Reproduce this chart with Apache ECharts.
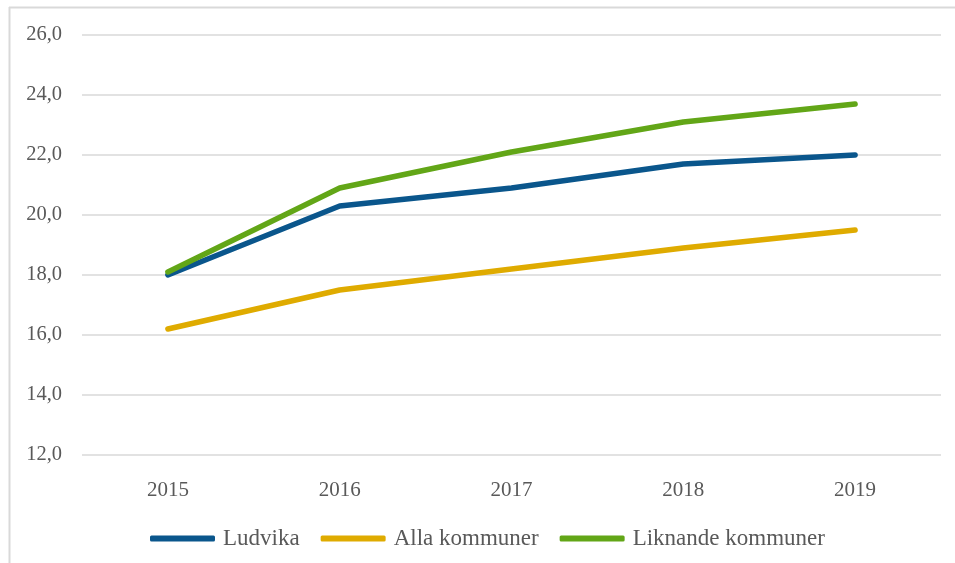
<!DOCTYPE html>
<html>
<head>
<meta charset="utf-8">
<script src="https://cdn.jsdelivr.net/npm/echarts@6/dist/echarts.min.js"></script>
<style>
html,body{margin:0;padding:0;background:#fff}
#chart{width:955px;height:563px}
</style>
</head>
<body>
<div id="chart"></div>
<script>
// år och värden
var years = ['2015', '2016', '2017', '2018', '2019'];
var ludvika = [18.0, 20.3, 20.9, 21.7, 22.0];
var allaKommuner = [16.2, 17.5, 18.2, 18.9, 19.5];
var liknandeKommuner = [18.1, 20.9, 22.1, 23.1, 23.7];

var textColor = '#595959';
var fontFam = '"Liberation Serif", "DejaVu Serif", serif';

var myChart = echarts.init(document.getElementById('chart'));

function lineSerie(name, data, color) {
	return {
		name: name,
		type: 'line',
		data: data,
		symbol: 'none',
		smooth: false,
		lineStyle: { width: 5.5, color: color, cap: 'round', join: 'round' },
		itemStyle: { color: color }
	};
}

var option = {
	animation: false,
	backgroundColor: '#fff',
	grid: { left: 82, right: 14, top: 35, bottom: 108 },
	xAxis: {
		type: 'category',
		data: years,
		boundaryGap: true,
		axisLine: { show: false },
		axisTick: { show: false },
		axisLabel: { color: textColor, fontFamily: fontFam, fontSize: 21, margin: 25 }
	},
	yAxis: {
		type: 'value',
		min: 12,
		max: 26,
		interval: 2,
		axisLine: { show: false },
		axisTick: { show: false },
		axisLabel: {
			color: textColor, fontFamily: fontFam, fontSize: 20.5, margin: 20,
			formatter: function (v) { return v.toFixed(1).replace('.', ','); }
		},
		splitLine: { lineStyle: { color: '#d9d9d9', width: 1.5 } }
	},
	legend: {
		top: 522,
		left: 145,
		icon: 'roundRect',
		itemWidth: 65,
		itemHeight: 6,
		itemGap: 21,
		textStyle: { color: textColor, fontFamily: fontFam, fontSize: 23, padding: [0, 0, 0, 3] },
		data: ['Ludvika', 'Alla kommuner', 'Liknande kommuner']
	},
	graphic: [
		{ type: 'line', shape: { x1: 9.5, y1: 7, x2: 9.5, y2: 563 }, style: { stroke: '#d9d9d9', lineWidth: 2 } },
		{ type: 'line', shape: { x1: 9, y1: 7.5, x2: 955, y2: 7.5 }, style: { stroke: '#d9d9d9', lineWidth: 2 } }
	],
	series: [
		lineSerie('Ludvika', ludvika, '#0a568c'),
		lineSerie('Alla kommuner', allaKommuner, '#dfab00'),
		lineSerie('Liknande kommuner', liknandeKommuner, '#62a617')
	]
};

myChart.setOption(option);
</script>
</body>
</html>
